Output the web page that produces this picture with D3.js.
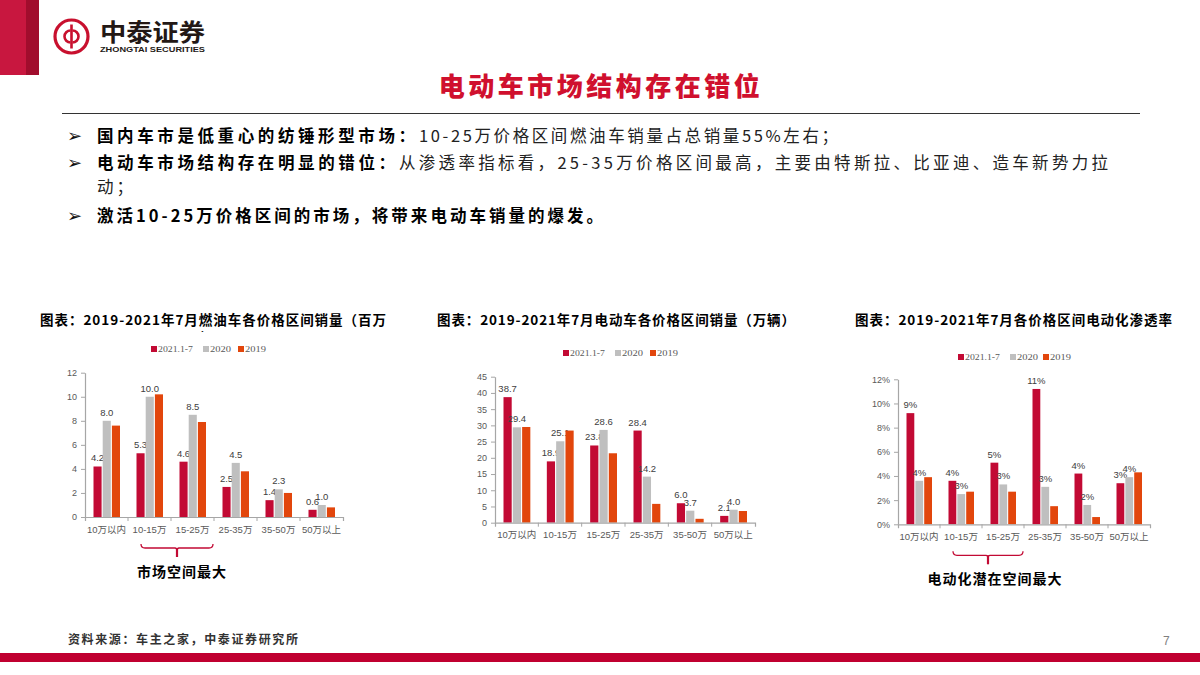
<!DOCTYPE html>
<html><head><meta charset="utf-8">
<script src="https://cdn.jsdelivr.net/npm/d3@7"></script>
<style>body{margin:0;background:#fff} svg{display:block}</style>
</head><body>
<svg id="c" width="1200" height="675"></svg>
<script>
// ---------- DATA ----------
const categories = ["10万以内","10-15万","15-25万","25-35万","35-50万","50万以上"];
const seriesNames = ["2021.1-7","2020","2019"];
const fuelSales2021 = [4.2,5.3,4.6,2.5,1.4,0.6];
const fuelSales2020 = [8.0,10.0,8.5,4.5,2.3,1.0];
const fuelSales2019 = [7.6,10.2,7.9,3.8,2.0,0.8];
const evSales2021 = [38.7,18.9,23.8,28.4,6.0,2.1];
const evSales2020 = [29.4,25.1,28.6,14.2,3.7,4.0];
const evSales2019 = [29.5,28.4,21.4,5.8,1.2,3.6];
const evRate2021 = [0.092,0.036,0.051,0.112,0.042,0.034];
const evRate2020 = [0.036,0.025,0.033,0.031,0.016,0.039];
const evRate2019 = [0.039,0.027,0.027,0.015,0.006,0.043];
const fuelTicks = [0,2,4,6,8,10,12];
const evTicks = [0,5,10,15,20,25,30,35,40,45];
const rateTicks = [0,0.02,0.04,0.06,0.08,0.10,0.12];

// ---------- STYLE ----------
const RED = "#c20a34", GRAY = "#bfbfbf", ORANGE = "#e2460c";
const colors = [RED, GRAY, ORANGE];
const FONT = "'Liberation Sans','Noto Sans CJK SC',sans-serif";
const CJK = "'Noto Sans CJK SC','Liberation Sans',sans-serif";

const svg = d3.select("#c");

// ---------- HEADER ----------
svg.append("rect").attr("x",0).attr("y",0).attr("width",26).attr("height",75).attr("fill","#c8173f");
svg.append("rect").attr("x",26).attr("y",0).attr("width",13).attr("height",75).attr("fill","#a10d2d");
const logo = svg.append("g").attr("transform","translate(71.5,36.5)");
logo.append("circle").attr("r",16.5).attr("fill","none").attr("stroke","#c8102e").attr("stroke-width",3.2);
logo.append("path").attr("d","M0,-12 L0,12").attr("stroke","#c8102e").attr("stroke-width",2.6);
logo.append("path").attr("d","M0,-6 A6,6 0 1 0 0,6").attr("fill","none").attr("stroke","#c8102e").attr("stroke-width",2.6).attr("transform","translate(-1,0)");
logo.append("path").attr("d","M0,-6 A6,6 0 1 1 0,6").attr("fill","none").attr("stroke","#c8102e").attr("stroke-width",2.6).attr("transform","translate(1,0)");
svg.append("text").attr("x",100).attr("y",41).text("中泰证券")
  .attr("font-family",CJK).attr("font-weight","bold").attr("font-size",24)
  .attr("textLength",105).attr("lengthAdjust","spacingAndGlyphs").attr("fill","#231815");
svg.append("text").attr("x",100).attr("y",52).text("ZHONGTAI SECURITIES")
  .attr("font-family",FONT).attr("font-weight","bold").attr("font-size",7)
  .attr("textLength",105).attr("lengthAdjust","spacingAndGlyphs").attr("fill","#231815");

svg.append("text").attr("x",601).attr("y",96).attr("text-anchor","middle")
  .text("电动车市场结构存在错位")
  .attr("font-family",CJK).attr("font-weight","900").attr("font-size",26)
  .attr("letter-spacing",3.5).attr("fill","#d0102e");
svg.append("line").attr("x1",62).attr("x2",1140).attr("y1",113.5).attr("y2",113.5)
  .attr("stroke","#333").attr("stroke-width",1);

// ---------- BULLETS ----------
const bullets = [
  {y:142, arrow:true, segs:[{t:"国内车市是低重心的纺锤形型市场：",b:true,x:97,w:318},{t:"10-25万价格区间燃油车销量占总销量55%左右；",b:false,x:419,w:419}]},
  {y:169, arrow:true, segs:[{t:"电动车市场结构存在明显的错位：",b:true,x:97,w:298},{t:"从渗透率指标看，25-35万价格区间最高，主要由特斯拉、比亚迪、造车新势力拉",b:false,x:399,w:709}]},
  {y:193, arrow:false, segs:[{t:"动；",b:false,x:97,w:36}]},
  {y:222, arrow:true, segs:[{t:"激活10-25万价格区间的市场，将带来电动车销量的爆发。",b:true,x:97,w:506}]}
];
bullets.forEach(l=>{
  if(l.arrow) svg.append("text").attr("x",67).attr("y",l.y).text("➢")
     .attr("font-family","'DejaVu Sans'").attr("font-size",18).attr("fill","#111");
  l.segs.forEach(s=>{
    svg.append("text").attr("x",s.x).attr("y",l.y).text(s.t)
      .attr("font-family",CJK).attr("font-size",16.5).attr("font-weight",s.b?"bold":"normal")
      .attr("fill", s.b?"#000":"#222")
      .attr("textLength",s.w).attr("lengthAdjust","spacing");
  });
});

// ---------- CHARTS ----------
const legendWidths = [35,21,21];
function chart(o){
  const g = svg.append("g");
  const x = d3.scaleBand().domain(categories).range([o.x0,o.x1]).padding(0);
  const inner = d3.scaleBand().domain(seriesNames).range([8.5, x.bandwidth()-8]).paddingInner(0.12);
  const y = d3.scaleLinear().domain([0,o.max]).range([o.yb,o.yt]);

  // title
  g.append("text").attr("x",o.tx).attr("y",325).text(o.title)
    .attr("font-family",CJK).attr("font-weight","bold").attr("font-size",13.5)
    .attr("textLength",o.tw).attr("lengthAdjust","spacing").attr("fill","#000");
  if(o.title2){
    const id="clip"+o.tx;
    svg.append("clipPath").attr("id",id).append("rect").attr("x",o.tx).attr("y",329.5).attr("width",400).attr("height",2.5);
    g.append("text").attr("x",o.t2x).attr("y",343).text(o.title2).attr("clip-path","url(#"+id+")")
      .attr("font-family",CJK).attr("font-weight","bold").attr("font-size",13.5).attr("fill","#000");
  }
  // legend
  const lg = g.append("g").attr("transform",`translate(0,${o.ly})`);
  seriesNames.forEach((n,i)=>{
    lg.append("rect").attr("x",o.lx[i]).attr("y",-3).attr("width",6).attr("height",6).attr("fill",colors[i]);
    lg.append("text").attr("x",o.lx[i]+7).attr("y",3).text(n)
      .attr("font-family","'Liberation Serif',serif").attr("font-size",9).attr("fill","#595959")
      .attr("textLength",legendWidths[i]).attr("lengthAdjust","spacingAndGlyphs");
  });

  // bars
  o.series.forEach((vals,si)=>{
    g.append("g").selectAll("rect").data(vals).join("rect")
      .attr("x",(d,i)=>x(categories[i])+inner(seriesNames[si]))
      .attr("y",d=>y(d)).attr("width",inner.bandwidth()).attr("height",d=>y(0)-y(d))
      .attr("fill",colors[si]);
    if(si<2){
      g.append("g").selectAll("text").data(vals).join("text")
        .attr("x",(d,i)=>x(categories[i])+inner(seriesNames[si])+inner.bandwidth()/2)
        .attr("y",d=>y(d)-5).attr("text-anchor","middle").text(d=>o.fmt(d))
        .attr("font-family",FONT).attr("font-size",9.5).attr("fill","#404040");
    }
  });

  // y axis
  const ya = g.append("g").attr("transform",`translate(${o.x0},0)`)
    .call(d3.axisLeft(y).tickValues(o.ticks).tickFormat(o.tfmt).tickSize(4).tickSizeOuter(0).tickPadding(4));
  // x axis
  const xa = g.append("g").attr("transform",`translate(0,${o.yb})`)
    .call(d3.axisBottom(x).tickSize(0).tickSizeOuter(4).tickPadding(9));
  xa.selectAll(".tick text").attr("font-size",9.5).attr("font-family",FONT);
  g.append("g").selectAll("line").data(categories.slice(1)).join("line")
    .attr("x1",d=>x(d)).attr("x2",d=>x(d)).attr("y1",o.yb).attr("y2",o.yb+4)
    .attr("stroke","#a6a6a6");
  [ya,xa].forEach(a=>{
    a.select(".domain").attr("stroke","#a6a6a6").attr("stroke-width",1.2);
    a.selectAll(".tick line").attr("stroke","#a6a6a6");
    a.selectAll(".tick text").attr("fill","#595959").attr("font-family",FONT);
  });
  ya.selectAll(".tick text").attr("font-size",9);

  // bracket annotation
  if(o.note){
    const xa0 = x(categories[1])+13, xa1 = x(categories[2])+x.bandwidth()-1;
    const xm = (xa0+xa1)/2, by = o.yb+31;
    g.append("path")
      .attr("d",`M${xa0},${by-4} Q${xa0},${by} ${xa0+4},${by} L${xm-2},${by} Q${xm},${by} ${xm},${by+3} Q${xm},${by} ${xm+2},${by} L${xa1-4},${by} Q${xa1},${by} ${xa1},${by-4}`)
      .attr("fill","none").attr("stroke",RED).attr("stroke-width",1.3);
    g.append("line").attr("x1",xm).attr("x2",xm).attr("y1",by).attr("y2",by+9).attr("stroke",RED).attr("stroke-width",2.2);
    g.append("text").attr("x",o.nx).attr("y",by+29).attr("text-anchor","middle").text(o.note)
      .attr("font-family",CJK).attr("font-weight","bold").attr("font-size",14).attr("letter-spacing",1).attr("fill","#000");
  }
}

chart({x0:85,x1:343,yt:372.7,yb:517,max:12,ticks:fuelTicks,tfmt:d3.format("d"),fmt:d3.format(".1f"),
  series:[fuelSales2021,fuelSales2020,fuelSales2019],
  title:"图表：2019-2021年7月燃油车各价格区间销量（百万",tx:40,tw:346,title2:"辆）",t2x:200,
  ly:349,lx:[151,203,238],note:"市场空间最大",nx:182});
chart({x0:495,x1:755,yt:376.7,yb:522.7,max:45,ticks:evTicks,tfmt:d3.format("d"),fmt:d3.format(".1f"),
  series:[evSales2021,evSales2020,evSales2019],
  title:"图表：2019-2021年7月电动车各价格区间销量（万辆）",tx:437,tw:358,
  ly:353,lx:[563,615,650]});
chart({x0:898,x1:1150,yt:379.3,yb:524.3,max:0.12,ticks:rateTicks,tfmt:d3.format(".0%"),fmt:d3.format(".0%"),
  series:[evRate2021,evRate2020,evRate2019],
  title:"图表：2019-2021年7月各价格区间电动化渗透率",tx:855,tw:317,
  ly:357,lx:[958,1010,1043],note:"电动化潜在空间最大",nx:995});

// ---------- FOOTER ----------
svg.append("text").attr("x",68).attr("y",644).text("资料来源：车主之家，中泰证券研究所")
  .attr("font-family",CJK).attr("font-size",12).attr("font-weight","bold")
  .attr("textLength",230).attr("lengthAdjust","spacing").attr("fill","#333");
svg.append("text").attr("x",1163).attr("y",645).text("7")
  .attr("font-family",FONT).attr("font-size",12).attr("fill","#7f7f7f");
svg.append("rect").attr("x",0).attr("y",653).attr("width",1200).attr("height",9).attr("fill","#c00030");
</script>
</body></html>
